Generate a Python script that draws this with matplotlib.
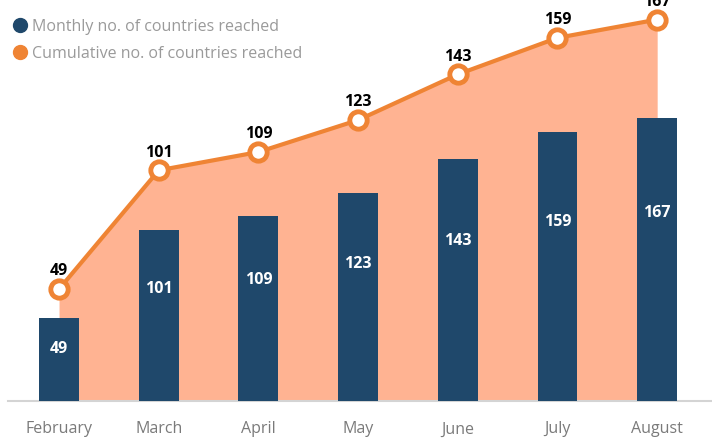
import matplotlib
matplotlib.use("Agg")
import matplotlib.pyplot as plt
from matplotlib.lines import Line2D

# ---------------------------------------------------------------
# Data
# ---------------------------------------------------------------
months = ["February", "March", "April", "May", "June", "July", "August"]
monthly = [49, 101, 109, 123, 143, 159, 167]
cumulative = [49, 101, 109, 123, 143, 159, 167]

# ---------------------------------------------------------------
# Style
# ---------------------------------------------------------------
COLOR_BAR = "#1f486b"
COLOR_AREA = "#ffb392"
COLOR_LINE = "#ef8434"
COLOR_AXIS = "#d4d4d4"
COLOR_TICK = "#7a7a7a"
COLOR_LEGEND = "#9a9a9a"

plt.rcParams["font.family"] = ["Open Sans", "DejaVu Sans"]

fig = plt.figure(figsize=(7.12, 4.39), dpi=100)
ax = fig.add_axes([8 / 712, 37 / 439, 704 / 712, 402 / 439])
ax_bar = ax.twinx()

x = list(range(len(months)))

# area + line (cumulative) on the primary axis
ax.fill_between(x, cumulative, 0, color=COLOR_AREA, linewidth=0, zorder=1)
ax.plot(x, cumulative, color=COLOR_LINE, linewidth=3, marker="o",
        markersize=12.5, markerfacecolor="white", markeredgecolor=COLOR_LINE,
        markeredgewidth=3.5, zorder=3, clip_on=False)
for xi, v in zip(x, cumulative):
    ax.annotate(str(v), (xi, v), xytext=(0, 13.5), textcoords="offset points",
                ha="center", va="center", fontsize=11.5, fontweight="bold",
                color="black", annotation_clip=False)

ax.set_xlim(-0.512, 6.55)
ax.set_ylim(0, 176)

# bars (monthly) on the twin axis so they sit over the area
ax_bar.bar(x, monthly, width=0.4, color=COLOR_BAR, zorder=2)
for xi, v in zip(x, monthly):
    ax_bar.annotate(str(v), (xi, v * 0.68), xytext=(0, -2.5),
                    textcoords="offset points", ha="center", va="center",
                    fontsize=11.5, fontweight="bold", color="white")
ax_bar.set_ylim(0, 237.3)

# axes cosmetics
for a in (ax, ax_bar):
    for side in ("top", "right", "left"):
        a.spines[side].set_visible(False)
    a.set_yticks([])
ax_bar.spines["bottom"].set_visible(False)
ax.spines["bottom"].set_color(COLOR_AXIS)
ax.spines["bottom"].set_linewidth(1.5)
ax.spines["bottom"].set_zorder(5)

ax.set_xticks(x)
ax.set_xticklabels(months, fontsize=11.5, color=COLOR_TICK)
ax.tick_params(axis="x", length=0, pad=14)

# legend
handles = [
    Line2D([], [], linestyle="none", marker="o", markersize=10,
           markerfacecolor=COLOR_BAR, markeredgecolor=COLOR_BAR),
    Line2D([], [], linestyle="none", marker="o", markersize=10,
           markerfacecolor=COLOR_LINE, markeredgecolor=COLOR_LINE),
]
fig.legend(handles, ["Monthly no. of countries reached",
                     "Cumulative no. of countries reached"],
           loc="upper left", bbox_to_anchor=(0.004, 0.98), frameon=False,
           fontsize=11.5, labelcolor=COLOR_LEGEND, handlelength=0.8,
           handletextpad=0.4, labelspacing=0.7, borderaxespad=0.25)

fig.savefig("out.png", dpi=100, facecolor="white")
